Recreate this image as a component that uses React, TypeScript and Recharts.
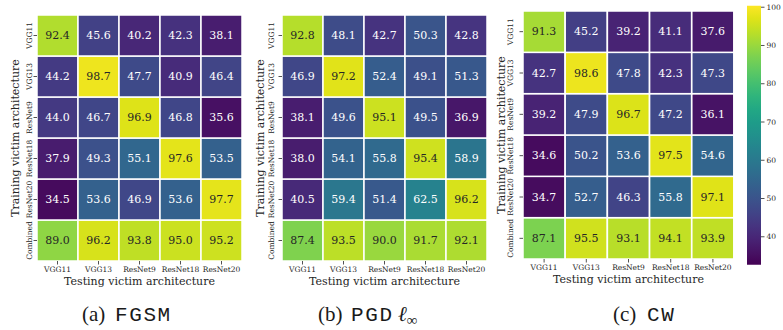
import React from 'react'
import { BarChart, Bar, XAxis, YAxis } from 'recharts'

// Attack success (%) of adversarial examples, training arch (rows) x testing arch (columns)
const TEST_ARCHS = ['VGG11', 'VGG13', 'ResNet9', 'ResNet18', 'ResNet20']
const TRAIN_ARCHS = ['VGG11', 'VGG13', 'ResNet9', 'ResNet18', 'ResNet20', 'Combined']

const FGSM_ACC = [
  [92.4, 45.6, 40.2, 42.3, 38.1],
  [44.2, 98.7, 47.7, 40.9, 46.4],
  [44.0, 46.7, 96.9, 46.8, 35.6],
  [37.9, 49.3, 55.1, 97.6, 53.5],
  [34.5, 53.6, 46.9, 53.6, 97.7],
  [89.0, 96.2, 93.8, 95.0, 95.2],
]

const PGD_ACC = [
  [92.8, 48.1, 42.7, 50.3, 42.8],
  [46.9, 97.2, 52.4, 49.1, 51.3],
  [38.1, 49.6, 95.1, 49.5, 36.9],
  [38.0, 54.1, 55.8, 95.4, 58.9],
  [40.5, 59.4, 51.4, 62.5, 96.2],
  [87.4, 93.5, 90.0, 91.7, 92.1],
]

const CW_ACC = [
  [91.3, 45.2, 39.2, 41.1, 37.6],
  [42.7, 98.6, 47.8, 42.3, 47.3],
  [39.2, 47.9, 96.7, 47.2, 36.1],
  [34.6, 50.2, 53.6, 97.5, 54.6],
  [34.7, 52.7, 46.3, 55.8, 97.1],
  [87.1, 95.5, 93.1, 94.1, 93.9],
]

const COLORBAR_TICKS = [40, 50, 60, 70, 80, 90, 100]
const COLOR_MIN = 32.7
const COLOR_MAX = 100.4

const VIRIDIS = [
  '#440154', '#471365', '#482475', '#463480', '#414487', '#3b528b', '#355f8d',
  '#2f6c8e', '#2a788e', '#25848e', '#21918c', '#1e9c89', '#22a884', '#2fb47c',
  '#44bf70', '#5ec962', '#7ad151', '#9bd93c', '#bddf26', '#dfe318', '#fde725',
]

const SERIF = '"DejaVu Serif", serif'
const INK = '#262626'
const TICK = 3.5
const CHART_W = 250
const CHART_H = 300
const Y_AXIS_W = 30
const X_AXIS_H = 30

function hexToRgb(hex: string): number[] {
  const n = parseInt(hex.slice(1), 16)
  return [(n >> 16) & 255, (n >> 8) & 255, n & 255]
}

function viridisRgb(v: number): number[] {
  const t = Math.min(1, Math.max(0, (v - COLOR_MIN) / (COLOR_MAX - COLOR_MIN)))
  const pos = t * (VIRIDIS.length - 1)
  const i = Math.min(VIRIDIS.length - 2, Math.floor(pos))
  const f = pos - i
  const a = hexToRgb(VIRIDIS[i])
  const b = hexToRgb(VIRIDIS[i + 1])
  return a.map((c, k) => Math.round(c + (b[k] - c) * f))
}

function viridis(v: number): string {
  const [r, g, b] = viridisRgb(v)
  return `rgb(${r},${g},${b})`
}

// same rule seaborn uses for annotation colour
function annotColor(v: number): string {
  const [r, g, b] = viridisRgb(v).map((c) => {
    const s = c / 255
    return s <= 0.03928 ? s / 12.92 : Math.pow((s + 0.055) / 1.055, 2.4)
  })
  const lum = 0.2126 * r + 0.7152 * g + 0.0722 * b
  return lum > 0.408 ? INK : '#ffffff'
}

interface Box { x: number; y: number; w: number; h: number }

interface PanelSpec {
  matrix: number[][]
  left: number
  plot: Box
  tickLabelX: number
}

const PANELS: PanelSpec[] = [
  { matrix: FGSM_ACC, left: 0, plot: { x: 37, y: 15, w: 205, h: 246 }, tickLabelX: 29.3 },
  { matrix: PGD_ACC, left: 245, plot: { x: 282, y: 15, w: 205, h: 246 }, tickLabelX: 271.7 },
  { matrix: CW_ACC, left: 490, plot: { x: 523, y: 11, w: 211, h: 248 }, tickLabelX: 510.7 },
]

function Heatmap({ matrix, left, plot, tickLabelX }: PanelSpec) {
  const nRows = TRAIN_ARCHS.length
  const data = TEST_ARCHS.map((test, j) => {
    const entry: Record<string, string | number> = { test }
    TRAIN_ARCHS.forEach((_, r) => {
      entry[`u${r}`] = 1
      entry[`v${r}`] = matrix[r][j]
    })
    return entry
  })
  const rowTicks = TRAIN_ARCHS.map((_, r) => nRows - r - 0.5)
  // bars stack from the bottom, so the last training arch goes first
  const stackOrder = TRAIN_ARCHS.map((_, k) => nRows - 1 - k)

  const margin = {
    left: plot.x - left - Y_AXIS_W,
    top: plot.y,
    right: left + CHART_W - (plot.x + plot.w),
    bottom: CHART_H - (plot.y + plot.h) - X_AXIS_H,
  }

  const renderYTick = (p: any) => {
    const r = Math.round(nRows - 0.5 - p.payload.value)
    const cx = tickLabelX - left
    return (
      <text
        x={cx}
        y={p.y}
        transform={`rotate(-90 ${cx} ${p.y})`}
        textAnchor="middle"
        dominantBaseline="central"
        fontSize={7.5}
        fontFamily={SERIF}
        fill={INK}
      >
        {TRAIN_ARCHS[r]}
      </text>
    )
  }

  const renderXTick = (p: any) => (
    <text
      x={p.x}
      y={p.y + 2.8}
      textAnchor="middle"
      dominantBaseline="central"
      fontSize={7.5}
      fontFamily={SERIF}
      fill={INK}
    >
      {p.payload.value}
    </text>
  )

  return (
    <div style={{ position: 'absolute', left, top: 0 }}>
      <BarChart width={CHART_W} height={CHART_H} data={data} margin={margin} barCategoryGap={0} barGap={0}>
        <XAxis
          dataKey="test"
          height={X_AXIS_H}
          interval={0}
          axisLine={false}
          tickSize={TICK}
          tickMargin={2}
          tickLine={{ stroke: INK, strokeWidth: 0.8 }}
          tick={renderXTick}
        />
        <YAxis
          type="number"
          domain={[0, nRows]}
          ticks={rowTicks}
          width={Y_AXIS_W}
          axisLine={false}
          tickSize={TICK}
          tickMargin={0}
          tickLine={{ stroke: INK, strokeWidth: 0.8 }}
          tick={renderYTick}
        />
        {stackOrder.map((r) => (
          <Bar
            key={r}
            dataKey={`u${r}`}
            stackId="cells"
            isAnimationActive={false}
            shape={(p: any) => {
              const v = p.payload[`v${r}`] as number
              return (
                <g>
                  <rect
                    x={p.x}
                    y={p.y}
                    width={p.width}
                    height={p.height}
                    fill={viridis(v)}
                    stroke="#ffffff"
                    strokeWidth={1.5}
                  />
                  <text
                    x={p.x + p.width / 2}
                    y={p.y + p.height / 2}
                    textAnchor="middle"
                    dominantBaseline="central"
                    fontSize={11}
                    fontFamily={SERIF}
                    fill={annotColor(v)}
                  >
                    {v.toFixed(1)}
                  </text>
                </g>
              )
            }}
          />
        ))}
      </BarChart>
    </div>
  )
}

function Colorbar() {
  const left = 740
  const plot = { x: 747, y: 5.7, w: 14, h: 259 }
  const width = 43
  const axisW = width - (plot.x - left) - plot.w
  return (
    <div style={{ position: 'absolute', left, top: 0 }}>
      <BarChart
        width={width}
        height={CHART_H}
        data={[{ name: 'scale', span: [COLOR_MIN, COLOR_MAX] }]}
        margin={{ left: plot.x - left, top: plot.y, right: 0, bottom: CHART_H - plot.y - plot.h }}
        barCategoryGap={0}
      >
        <XAxis dataKey="name" hide />
        <YAxis
          orientation="right"
          type="number"
          domain={[COLOR_MIN, COLOR_MAX]}
          ticks={COLORBAR_TICKS}
          width={axisW}
          axisLine={false}
          tickSize={TICK}
          tickMargin={2}
          tickLine={{ stroke: INK, strokeWidth: 0.8 }}
          tick={{ fontSize: 7.5, fontFamily: SERIF, fill: INK }}
        />
        <Bar dataKey="span" fill="url(#viridisScale)" isAnimationActive={false} />
      </BarChart>
    </div>
  )
}

const MONO = '"Liberation Mono", monospace'
const CAPTION_SERIF = '"Liberation Serif", serif'

function Annotations() {
  const title = { fontSize: 11, fontFamily: SERIF, fill: INK }
  const cap = { fontSize: 21, fill: '#1a1a1a' }
  return (
    <svg width={783} height={330} style={{ position: 'absolute', left: 0, top: 0, pointerEvents: 'none' }}>
      <defs>
        <linearGradient id="viridisScale" x1="0" y1="1" x2="0" y2="0">
          {VIRIDIS.map((c, i) => (
            <stop key={i} offset={i / (VIRIDIS.length - 1)} stopColor={c} />
          ))}
        </linearGradient>
      </defs>
      {PANELS.map((p, i) => (
        <g key={i}>
          <text
            x={p.plot.x - 22}
            y={p.plot.y + p.plot.h / 2}
            transform={`rotate(-90 ${p.plot.x - 22} ${p.plot.y + p.plot.h / 2})`}
            textAnchor="middle"
            dominantBaseline="central"
            {...title}
          >
            Training victim architecture
          </text>
          <text
            x={p.plot.x + p.plot.w / 2}
            y={p.plot.y + p.plot.h + 20.7}
            textAnchor="middle"
            dominantBaseline="central"
            {...title}
          >
            Testing victim architecture
          </text>
        </g>
      ))}
      <text y={321} {...cap}>
        <tspan x={82} fontFamily={CAPTION_SERIF}>(a)</tspan>
        <tspan x={115} fontFamily={MONO} letterSpacing={1.6}>FGSM</tspan>
      </text>
      <text y={321} {...cap}>
        <tspan x={318} fontFamily={CAPTION_SERIF}>(b)</tspan>
        <tspan x={351} fontFamily={MONO} letterSpacing={1.6}>PGD</tspan>
        <tspan x={398} fontFamily={CAPTION_SERIF} fontStyle="italic">ℓ</tspan>
        <tspan fontFamily={CAPTION_SERIF} fontSize={15} dy={4}>∞</tspan>
      </text>
      <text y={321} {...cap}>
        <tspan x={613} fontFamily={CAPTION_SERIF}>(c)</tspan>
        <tspan x={647} fontFamily={MONO} letterSpacing={1.6}>CW</tspan>
      </text>
    </svg>
  )
}

export default function App() {
  return (
    <div style={{ position: 'fixed', left: 0, top: 0, width: 783, height: 330, background: '#ffffff', overflow: 'hidden' }}>
      {PANELS.map((p, i) => (
        <Heatmap key={i} {...p} />
      ))}
      <Colorbar />
      <Annotations />
    </div>
  )
}
